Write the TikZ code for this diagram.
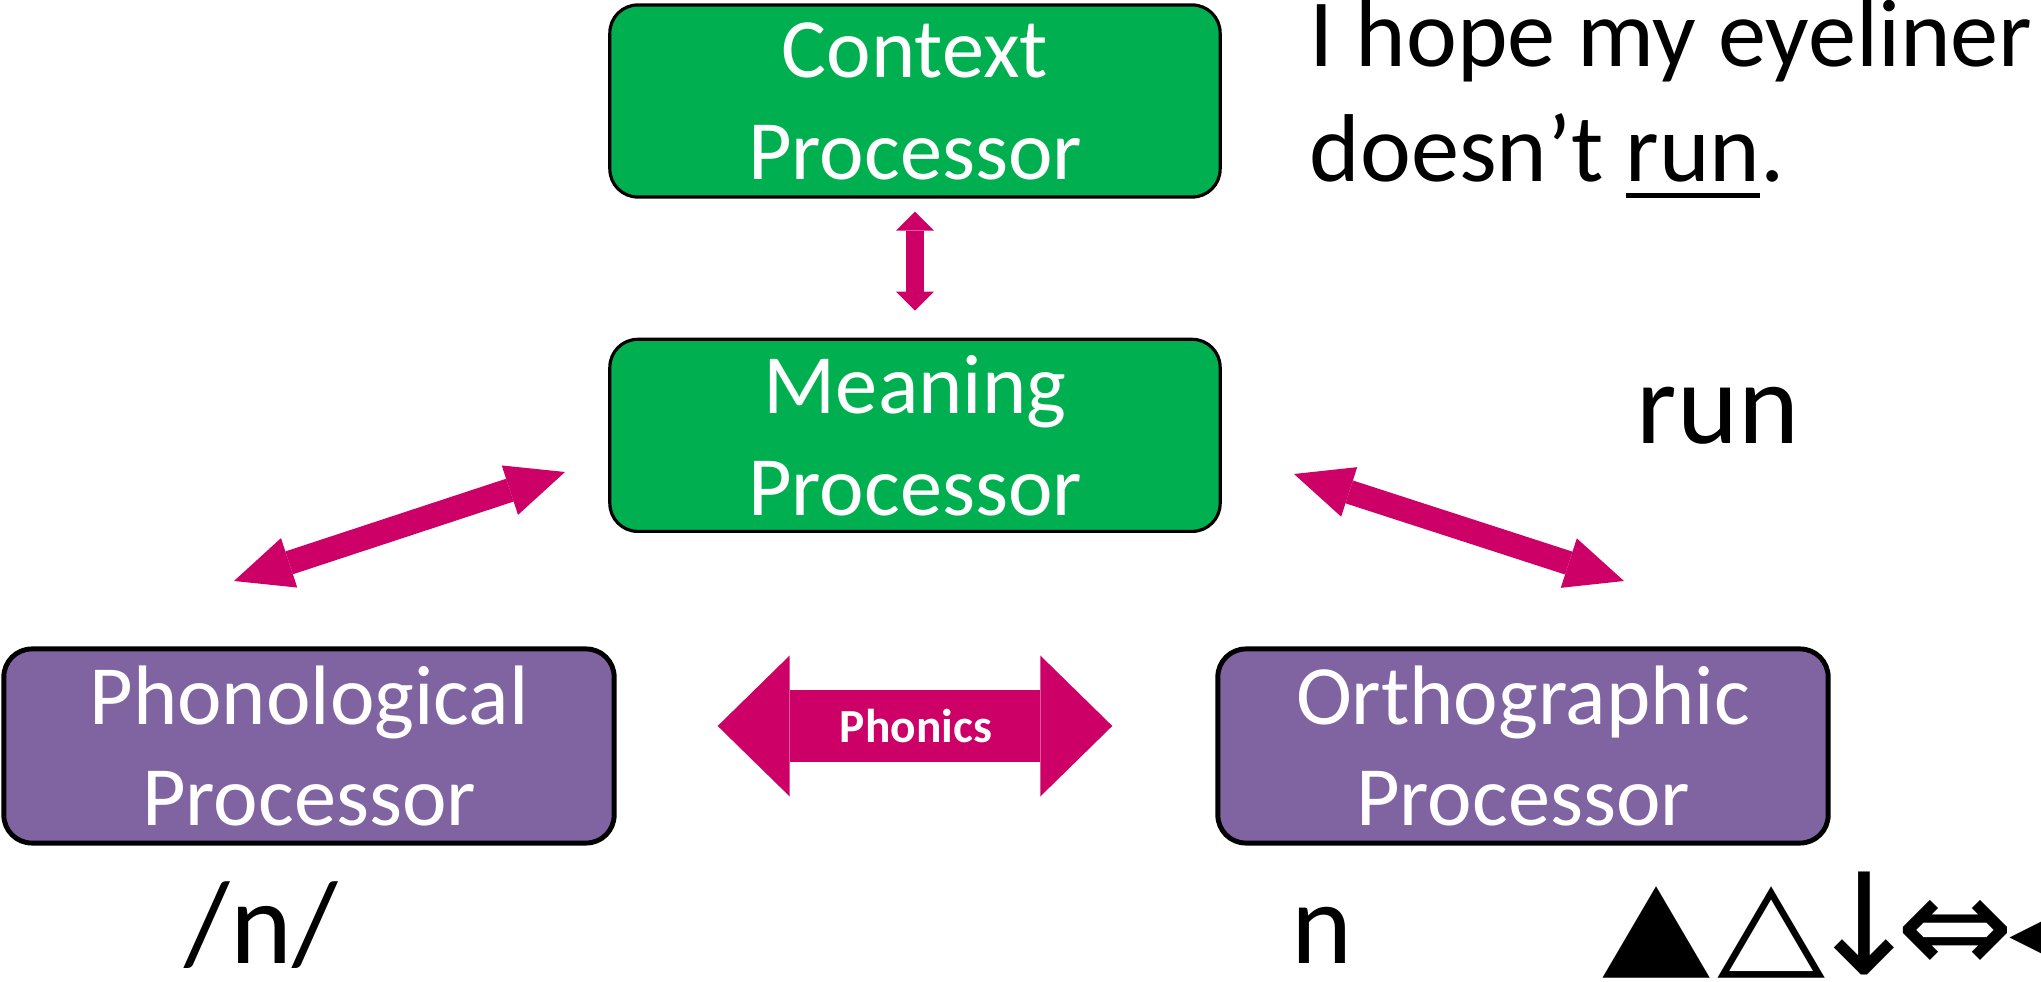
\documentclass[tikz,border=0pt]{standalone}
\usepackage{fontspec}
\usepackage{graphicx}
\setmainfont{Carlito}
\newfontfamily\symfont{DejaVu Sans}
\usetikzlibrary{positioning,arrows.meta}
\definecolor{procgreen}{HTML}{00B050}
\definecolor{procpurple}{HTML}{8064A2}
\definecolor{linkred}{HTML}{CC0066}
\newcommand{\thickul}[1]{\setbox0\hbox{#1}\rlap{\rule[-0.16cm]{\wd0}{0.05cm}}\box0}
\tikzset{
  gp/.style={rectangle, rounded corners=0.28cm, minimum width=6.1cm, minimum height=1.92cm, text centered, align=center, draw=black, line width=0.9pt, fill=procgreen, text=white, font=\fontsize{24}{29}\selectfont},
  pp/.style={gp, fill=procpurple, line width=1.4pt, minimum height=1.94cm},
  tx/.style={inner sep=0pt, anchor=base west, font=\fontsize{27.4}{34}\selectfont},
  big/.style={inner sep=0pt, anchor=base west, font=\fontsize{33}{40}\selectfont},
  sym/.style={inner sep=0pt, font=\symfont\fontsize{40}{48}\selectfont},
  va/.style={draw=linkred, line width=0.18cm, {Triangle[length=0.19cm, width=0.38cm, line width=0pt]}-{Triangle[length=0.19cm, width=0.38cm, line width=0pt]}},
  da/.style={draw=linkred, line width=0.24cm, {Triangle[length=0.58cm, width=0.52cm, line width=0pt]}-{Triangle[length=0.58cm, width=0.52cm, line width=0pt]}},
  pa/.style={draw=linkred, line width=0.72cm, {Triangle[length=0.72cm, width=1.41cm, line width=0pt]}-{Triangle[length=0.72cm, width=1.41cm, line width=0pt]}},
  phx/.style={text=white, inner sep=0pt, font=\fontsize{13.5}{16}\selectfont\bfseries}
}

\begin{document}
\begin{tikzpicture}[x=0.01cm, y=-0.01cm]
	\useasboundingbox (0,0) rectangle (2041,982);
	\node[gp] (ctx) at (915,101) {Context\\Processor};
	\node[gp, below=1.39cm of ctx] (mean) {Meaning\\Processor};
	\node[pp] (phono) at (309,746) {Phonological\\Processor};
	\node[pp] (ortho) at (1523,746) {Orthographic\\Processor};
	%
	\node[tx] (sent1) at (1309,67) {I hope my eyeliner};
	\node[tx] (sent2) at (1309,182) {doesn’t \thickul{run}.};
	\node[big] (word) at (1636,443) {run};
	\node[big, font=\fontsize{33.5}{40}\selectfont] (phon) at (184,963) {/n/};
	\node[big] (graph) at (1291,963) {n};
	\foreach \s/\x/\y/\f/\a [count=\i] in {▲/1657/932/0.85/center, △/1772/932/0.85/center, ↓/1864/974/1/base, ⇔/1955/974/1/base, ◀/2064/974/1/base}
		\node[sym, anchor=\a] (sym\i) at (\x,\y) {\scalebox{1}[\f]{\s}};
	%
	\coordinate (ml) at (234,581);
	\coordinate (mr) at (565,472);
	\coordinate (ol) at (1294,474);
	\coordinate (or) at (1624,581);
	\draw[va, shorten <=0.13cm, shorten >=0.27cm] (ctx) -- (mean);
	\draw[da] (ml) -- (mr);
	\draw[da] (ol) -- (or);
	\draw[pa, shorten <=1.01cm, shorten >=1.03cm] ([yshift=0.2cm]phono.east) -- node[phx] (phx) {Phonics} ([yshift=0.2cm]ortho.west);
\end{tikzpicture}
\end{document}
